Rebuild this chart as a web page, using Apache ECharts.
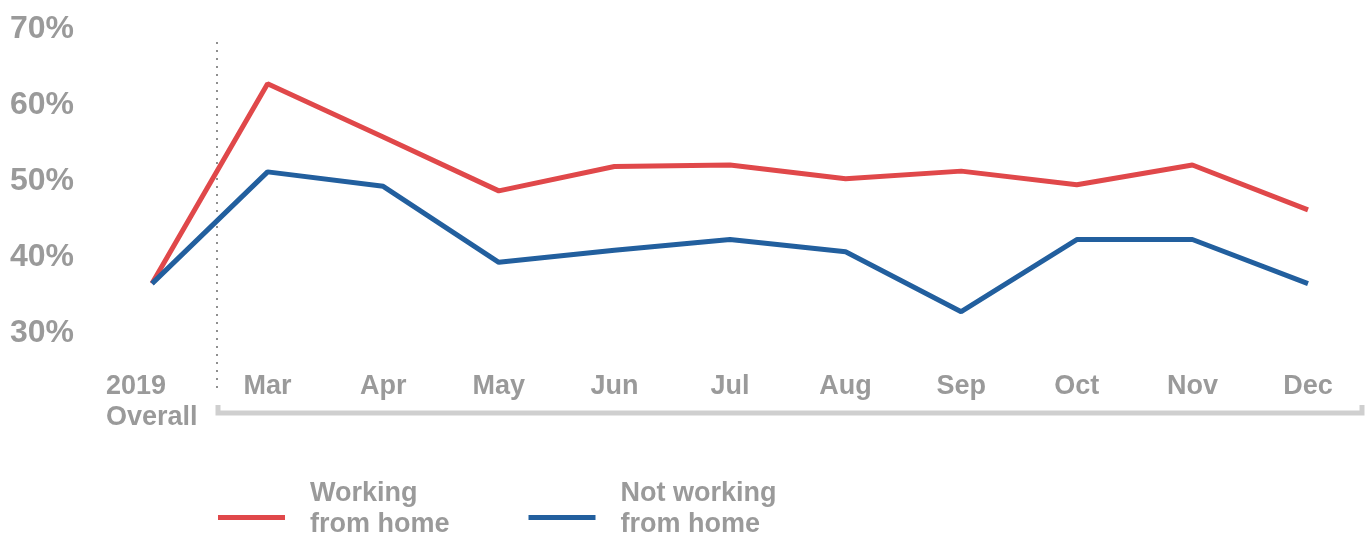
<!DOCTYPE html>
<html>
<head>
<meta charset="utf-8">
<script src="https://cdn.jsdelivr.net/npm/echarts@6/dist/echarts.min.js"></script>
<style>
html,body{margin:0;padding:0;background:#fff;}
#chart{width:1371px;height:537px;}
</style>
</head>
<body>
<div id="chart"></div>
<script>
const categories = ['2019\nOverall','Mar','Apr','May','Jun','Jul','Aug','Sep','Oct','Nov','Dec'];
const workingFromHome = [36.5, 62.8, 55.8, 48.7, 51.9, 52.1, 50.3, 51.3, 49.5, 52.1, 46.2];
const notWorkingFromHome = [36.5, 51.2, 49.3, 39.3, 40.9, 42.3, 40.7, 32.8, 42.3, 42.3, 36.5];
const yTicks = [30, 40, 50, 60, 70];
const seriesNames = ['Working\nfrom home', 'Not working\nfrom home'];

const GRAY = '#9a9a9a';
const FONT = '"Liberation Sans", Arial, sans-serif';

const chart = echarts.init(document.getElementById('chart'), null, {renderer: 'canvas'});
chart.setOption({
  animation: false,
  backgroundColor: '#fff',
  grid: {left: 152, right: 63, top: 29, bottom: 204, containLabel: false},
  xAxis: {
    type: 'category',
    data: categories,
    boundaryGap: false,
    axisLine: {show: false},
    axisTick: {show: false},
    splitLine: {show: false},
    axisLabel: {
      color: GRAY, fontFamily: FONT, fontWeight: 'bold', fontSize: 27,
      lineHeight: 31, margin: 38, interval: 0,
      formatter: (v) => v.indexOf('\n') >= 0
        ? v.split('\n').map(s => '{l|' + s + '}').join('\n')
        : v,
      rich: {
        l: {width: 92, align: 'left', color: GRAY, fontFamily: FONT, fontWeight: 'bold', fontSize: 27, lineHeight: 31}
      }
    }
  },
  yAxis: {
    type: 'value',
    min: yTicks[0], max: yTicks[yTicks.length - 1], interval: 10,
    axisLine: {show: false},
    axisTick: {show: false},
    splitLine: {show: false},
    axisLabel: {
      color: GRAY, fontFamily: FONT, fontWeight: 'bold', fontSize: 32,
      align: 'left', margin: 142,
      formatter: v => v + '%'
    }
  },
  legend: {
    left: 218, top: 480, padding: 0,
    itemWidth: 67, itemHeight: 5, itemGap: 79,
    icon: 'rect',
    formatter: name => name.split('\n').map(s => '{t|' + s + '}').join('\n') + '\n{s| }',
    textStyle: {
      color: GRAY, fontFamily: FONT, fontWeight: 'bold', fontSize: 27,
      padding: [0, 0, 0, 20],
      rich: {
        t: {color: GRAY, fontFamily: FONT, fontWeight: 'bold', fontSize: 27, lineHeight: 31},
        s: {fontSize: 2, lineHeight: 17}
      }
    },
    data: seriesNames
  },
  series: [
    {
      name: seriesNames[0], type: 'line', data: workingFromHome,
      symbol: 'none', lineStyle: {width: 5, color: '#E0484A'}, itemStyle: {color: '#E0484A'}
    },
    {
      name: seriesNames[1], type: 'line', data: notWorkingFromHome,
      symbol: 'none', lineStyle: {width: 5, color: '#225F9E'}, itemStyle: {color: '#225F9E'}
    }
  ]
});

const p0 = chart.convertToPixel({xAxisIndex: 0}, categories[0]);
const p1 = chart.convertToPixel({xAxisIndex: 0}, categories[1]);
const pLast = chart.convertToPixel({xAxisIndex: 0}, categories[categories.length - 1]);
const sepX = Math.round((p0 + p1) / 2) + 7;
const yTop = chart.convertToPixel({yAxisIndex: 0}, 68.3);
const rightX = pLast + 54;

chart.setOption({
  graphic: [
    {
      type: 'line', silent: true,
      shape: {x1: sepX, y1: yTop, x2: sepX, y2: 388},
      style: {stroke: '#8f8f8f', lineWidth: 2, lineDash: [2, 6]}
    },
    {
      type: 'polyline', silent: true,
      shape: {points: [[sepX + 1, 405], [sepX + 1, 413], [rightX, 413], [rightX, 405]]},
      style: {stroke: '#cfcfcf', lineWidth: 5, fill: null}
    }
  ]
});
</script>
</body>
</html>
